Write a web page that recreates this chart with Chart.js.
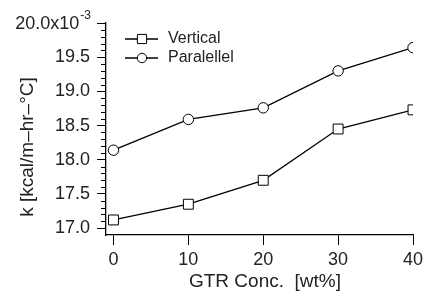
<!DOCTYPE html>
<html>
<head>
<meta charset="utf-8">
<script src="https://cdn.jsdelivr.net/npm/chart.js@4.4.0/dist/chart.umd.min.js"></script>
<style>
html,body{margin:0;padding:0;background:#fff;}
#wrap{width:426px;height:291px;}
</style>
</head>
<body>
<div id="wrap"><canvas id="c" width="426" height="291"></canvas></div>
<script>
const categories = [0, 10, 20, 30, 40];
const vertical = [17.12, 17.35, 17.70, 18.45, 18.73];
const parallel = [18.14, 18.59, 18.76, 19.30, 19.64];
const yTicks = [17.0, 17.5, 18.0, 18.5, 19.0, 19.5, 20.0];
const yMinorTicks = [17.1,17.2,17.3,17.4,17.6,17.7,17.8,17.9,18.1,18.2,18.3,18.4,18.6,18.7,18.8,18.9,19.1,19.2,19.3,19.4,19.6,19.7,19.8,19.9];
const xTicks = [0, 10, 20, 30, 40];
const seriesNames = ['Vertical', 'Paralellel'];
const xTitle = 'GTR Conc.  [wt%]';
const yTitle = 'k [kcal/m–hr–°C]';

const FONT = '"Liberation Sans", Arial, sans-serif';
const TXT = '#222';

const extrasPlugin = {
  id: 'extras',
  afterDraw(chart) {
    const ctx = chart.ctx;
    const y = chart.scales.y;
    const x0 = chart.chartArea.left;
    ctx.save();
    ctx.strokeStyle = '#000';
    ctx.lineWidth = 1;
    yMinorTicks.forEach(v => {
      const py = Math.round(y.getPixelForValue(v)) + 0.5;
      ctx.beginPath();
      ctx.moveTo(x0 - 5, py);
      ctx.lineTo(x0, py);
      ctx.stroke();
    });
    // top label with superscript exponent
    const topY = y.getPixelForValue(20.0);
    const right = x0 - 9 - 7;
    ctx.fillStyle = TXT;
    ctx.textBaseline = 'middle';
    ctx.textAlign = 'right';
    ctx.font = '12px ' + FONT;
    ctx.fillText('-3', right + 1, topY - 7);
    const supW = ctx.measureText('-3').width;
    ctx.font = '18px ' + FONT;
    ctx.fillText('20.0x10', right + 1 - supW - 1, topY + 1);
    // axis titles
    ctx.font = '19px ' + FONT;
    ctx.textAlign = 'center';
    ctx.fillText(xTitle, 265, 282);
    ctx.translate(28, 147);
    ctx.rotate(-Math.PI / 2);
    ctx.fillText(yTitle, 0, 0);
    ctx.restore();
  }
};

const legendPlugin = {
  id: 'customLegend',
  afterDatasetsDraw(chart) {
    const ctx = chart.ctx;
    const rows = [39, 58];
    const radii = [6.5, 4.7];
    ctx.save();
    chart.data.datasets.forEach((ds, i) => {
      const yy = rows[i];
      ctx.strokeStyle = '#000';
      ctx.lineWidth = 1.3;
      ctx.beginPath();
      ctx.moveTo(125, yy);
      ctx.lineTo(158, yy);
      ctx.stroke();
      ctx.fillStyle = '#fff';
      ctx.strokeStyle = '#000';
      ctx.lineWidth = 1;
      Chart.helpers.drawPoint(ctx, {pointStyle: ds.pointStyle, radius: radii[i], borderWidth: 1, rotation: 0}, 142, yy);
      ctx.fillStyle = TXT;
      ctx.font = '16px ' + FONT;
      ctx.textAlign = 'left';
      ctx.textBaseline = 'middle';
      ctx.fillText(ds.label, 168, yy);
    });
    ctx.restore();
  }
};

new Chart(document.getElementById('c'), {
  type: 'line',
  data: {
    datasets: [
      {
        label: seriesNames[0],
        data: categories.map((c, i) => ({x: c, y: vertical[i]})),
        borderColor: '#000', borderWidth: 1.3,
        pointStyle: 'rect', pointRadius: 7, pointBorderWidth: 1,
        pointBackgroundColor: '#fff', pointBorderColor: '#000',
        tension: 0
      },
      {
        label: seriesNames[1],
        data: categories.map((c, i) => ({x: c, y: parallel[i]})),
        borderColor: '#000', borderWidth: 1.3,
        pointStyle: 'circle', pointRadius: 5.2, pointBorderWidth: 1,
        pointBackgroundColor: '#fff', pointBorderColor: '#000',
        tension: 0
      }
    ]
  },
  options: {
    responsive: false,
    animation: false,
    devicePixelRatio: 1,
    layout: {padding: {top: 23, right: 13, left: 0, bottom: 0}},
    plugins: {legend: {display: false}, tooltip: {enabled: false}},
    scales: {
      x: {
        type: 'linear', min: -1, max: 40,
        afterBuildTicks: s => { s.ticks = xTicks.map(v => ({value: v})); },
        afterFit: s => { s.height = 56; s.paddingLeft = 0; s.paddingRight = 0; },
        grid: {display: true, drawOnChartArea: false, drawTicks: true, tickLength: 10, color: '#000', tickColor: '#000', tickWidth: 1},
        border: {display: true, color: '#000', width: 1.3},
        ticks: {color: TXT, font: {family: FONT, size: 18}, padding: 4, maxRotation: 0, autoSkip: false},
        title: {display: false}
      },
      y: {
        type: 'linear', min: 16.9, max: 20.0,
        afterBuildTicks: s => { s.ticks = yTicks.map(v => ({value: v})); },
        afterFit: s => { s.width = 106; s.paddingTop = 0; s.paddingBottom = 0; },
        grid: {display: true, drawOnChartArea: false, drawTicks: true, tickLength: 9, color: '#000', tickColor: '#000', tickWidth: 1},
        border: {display: true, color: '#000', width: 1.3},
        ticks: {color: TXT, font: {family: FONT, size: 18}, padding: 7, autoSkip: false,
          callback: v => (Math.abs(v - 20) < 1e-9 ? '' : Number(v).toFixed(1))},
        title: {display: false}
      }
    }
  },
  plugins: [extrasPlugin, legendPlugin]
});
</script>
</body>
</html>
